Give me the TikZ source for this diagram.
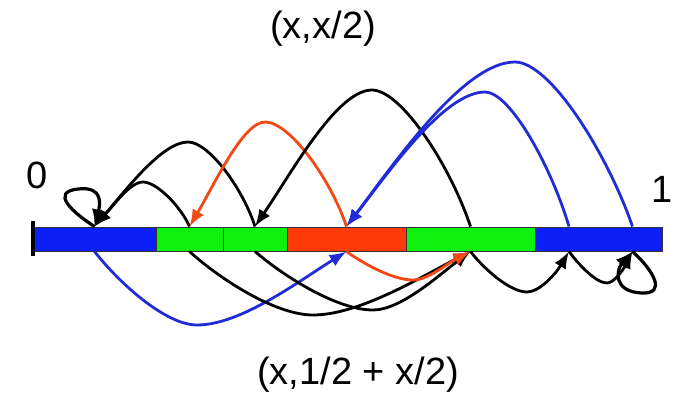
\documentclass[tikz,border=0pt]{standalone}
\usepackage{fontspec}
\setmainfont{Liberation Sans}
\usetikzlibrary{arrows.meta}
\definecolor{segblue}{RGB}{12,32,245}
\definecolor{seggreen}{RGB}{14,240,14}
\definecolor{segred}{RGB}{255,58,8}
\definecolor{arcblue}{RGB}{32,44,214}
\definecolor{arcred}{RGB}{242,72,22}
\begin{document}
\begin{tikzpicture}[x=1pt, y=-1pt,
    seg/.style={draw=black!80, line width=1pt, minimum height=24pt, inner sep=0pt},
    lbl/.style={font=\fontsize{38}{41}\selectfont, inner sep=0pt},
    arc/.style={-{Latex[length=17pt,width=13pt]}, line width=2.8pt, black},
    loopy/.style={-{Latex[length=17pt,width=14pt]}, line width=3.2pt, black}
]
    \useasboundingbox (0,0) rectangle (673,392);

    % the unit interval, cut in pieces
    \node[seg, fill=segblue,  minimum width=123pt] (s1) at (94.5,239) {};
    \node[seg, fill=seggreen, minimum width=67pt]  (s2) at (189.5,239) {};
    \node[seg, fill=seggreen, minimum width=64pt]  (s3) at (255,239) {};
    \node[seg, fill=segred,   minimum width=119pt] (s4) at (346.5,239) {};
    \node[seg, fill=seggreen, minimum width=129pt] (s5) at (470.5,239) {};
    \node[seg, fill=segblue,  minimum width=68pt]  (s6) at (569,239) {};
    \node[seg, fill=segblue,  minimum width=59pt]  (s7) at (632.5,239) {};
    \draw[line width=3.5pt] (33,221) -- (33,256);

    \node[lbl] (zero) at (37,175) {0};
    \node[lbl] (one)  at (662,189) {1};
    \node[lbl] (top)  at (323,29) {(x,x/2)};
    \node[lbl] (bot)  at (358,375) {(x,1/2 + x/2)};

    % upper arcs: x -> x/2
    \draw[loopy] (s1.north) .. controls (72,212) and (50,192) .. (78,189) .. controls (104,186) and (100,205) .. (s1.north);
    \draw[arc] (s2.north) .. controls (181,207) and (157,182) .. (143,182) .. controls (130,182) and (113,206) .. (s1.north);
    \draw[arc] (s3.north) .. controls (243,189) and (209,142) .. (188,142) .. controls (162,142) and (126,190) .. (s1.north);
    \draw[arc, arcred] (s4.north) .. controls (331,180) and (290,122) .. (265,122) .. controls (243,122) and (214,185) .. (s2.north);
    \draw[arc] (s5.north) .. controls (450,165) and (401,90) .. (372,90) .. controls (337,90) and (292,172) .. (s3.north);
    \draw[arc, arcblue] (s6.north) .. controls (551,166) and (510,92) .. (485,92) .. controls (444,92) and (388,173) .. (s4.north);
    \draw[arc, arcblue] (s7.north) .. controls (607,153) and (550,62) .. (515,62) .. controls (464,62) and (396,161) .. (s4.north);

    % lower arcs: x -> 1/2 + x/2
    \draw[arc, arcblue] (s1.south) .. controls (120,284) and (166,325) .. (197,325) .. controls (241,325) and (299,281) .. (s4.south);
    \draw[arc] (s2.south) .. controls (221,280) and (276,315) .. (313,315) .. controls (359,315) and (421,277) .. (s5.south);
    \draw[arc] (s3.south) .. controls (286,278) and (338,310) .. (373,310) .. controls (401,310) and (439,275) .. (s5.south);
    \draw[arc, arcred] (s4.south) .. controls (364,264) and (393,280) .. (413,280) .. controls (428,280) and (448,263) .. (s5.south);
    \draw[arc] (s5.south) .. controls (484,269) and (510,292) .. (527,292) .. controls (539,292) and (555,275) .. (s6.south);
    \draw[arc] (s6.south) .. controls (579,265) and (596,283) .. (607,283) .. controls (614,283) and (623,270) .. (s7.south);
    \draw[loopy] (s7.south) .. controls (655,272) and (666,294) .. (642,293) .. controls (613,292) and (616,270) .. (s7.south);
\end{tikzpicture}
\end{document}
